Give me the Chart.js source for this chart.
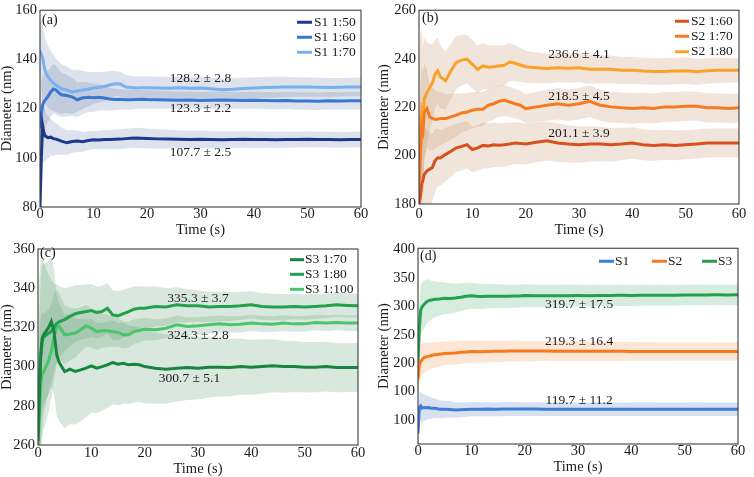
<!DOCTYPE html>
<html>
<head>
<meta charset="utf-8">
<script src="https://cdn.jsdelivr.net/npm/chart.js@4.4.1/dist/chart.umd.min.js"></script>
<style>
  html, body { margin: 0; padding: 0; background: #fff; }
  #wrap { position: relative; width: 754px; height: 477px; }
  canvas { position: absolute; }
</style>
</head>
<body>
<div id="wrap">
  <canvas id="chartA" width="377" height="238" style="left:0;top:0"></canvas>
  <canvas id="chartB" width="377" height="238" style="left:377px;top:0"></canvas>
  <canvas id="chartC" width="377" height="239" style="left:0;top:238px"></canvas>
  <canvas id="chartD" width="377" height="239" style="left:377px;top:238px"></canvas>
</div>
<script>
// time samples (s), shared by every series
const T = [0, 0.25, 0.5, 0.75, 1, 1.5, 2, 2.5, 3, 3.5, 4, 5, 6, 7, 8, 9, 10, 11, 12, 13, 14, 15, 16, 17, 18, 19, 20,
  22, 24, 26, 28, 30, 32, 34, 36, 38, 40, 42, 44, 46, 48, 50, 52, 54, 56, 58, 60];

// (a) S1 diameters (nm) and band half-widths
const s1_50 = [80, 100, 113, 110, 108.8, 108.2, 108.4, 107.8, 107.6, 107.2, 106.8, 106.1, 106.6, 106.8, 106.5, 107, 107.3, 107.2, 107.4, 107.4,
  107.5, 107.6, 107.8, 108, 108.1, 108, 107.9, 107.7, 107.6, 107.5, 107.4, 107.5, 107.4, 107.3, 107.4, 107.5, 107.4, 107.4, 107.3, 107.4,
  107.4, 107.5, 107.4, 107.4, 107.3, 107.4, 107.4];
const s1_60 = [112, 118, 121.5, 122.8, 123.6, 125, 126.8, 128, 127.6, 126.5, 125.6, 125.3, 124.8, 123.6, 124.4, 124.6, 124.4, 124.6, 124.3, 123.9,
  123.7, 123.8, 123.6, 123.6, 123.7, 123.8, 123.7, 123.6, 123.5, 123.4, 123.5, 123.3, 123.4, 123.5, 123.4, 123.3, 123.4, 123.3, 123.2, 123.3,
  123.1, 123.1, 123.0, 123.2, 123.1, 123.2, 123.2];
const s1_70 = [143.5, 142, 140.5, 137.5, 135, 133, 131.5, 130.5, 129.5, 128.8, 128, 127.6, 126.8, 127.2, 127.6, 127.9, 128.4, 128.7, 129, 129.6,
  130.1, 130, 128.8, 128.6, 128.4, 128.5, 128.5, 128.4, 128.3, 128.5, 128.3, 128.4, 128.1, 127.7, 127.9, 128.2, 128.4, 128.6, 128.7, 128.8,
  128.8, 128.8, 128.7, 128.6, 128.7, 128.8, 128.8];
const hw1_50 = [20, 18, 15, 12, 10, 8.5, 7.5, 7, 6.5, 6, 5.5, 5, 4.6, 4.3, 4, 3.8, 3.7, 3.7, 3.8, 3.9,
  4, 4, 4, 4, 4.1, 4.1, 4, 3.9, 3.8, 3.7, 3.6, 3.6, 3.5, 3.5, 3.4, 3.4, 3.4, 3.3, 3.3, 3.3,
  3.2, 3.2, 3.2, 3.2, 3.2, 3.2, 3.2];
const hw1_60 = [14, 13, 12, 11.5, 11, 10.5, 10, 10, 10, 9.5, 9, 8.5, 7.8, 7, 6.5, 6, 5.7, 5.4, 5, 4.7,
  4.4, 4.2, 4.1, 4, 3.9, 3.8, 3.8, 3.7, 3.6, 3.6, 3.5, 3.5, 3.5, 3.5, 3.5, 3.5, 3.5, 3.5, 3.5, 3.5,
  3.6, 3.6, 3.6, 3.6, 3.6, 3.6, 3.6];
const hw1_70 = [12, 14, 14, 13.5, 13, 12.5, 12, 11.5, 11, 10.5, 10, 9.5, 9, 8.5, 7.8, 7, 6.5, 6.2, 6, 5.6,
  5.2, 5, 4.9, 4.8, 4.7, 4.7, 4.7, 4.6, 4.6, 4.6, 4.6, 4.6, 4.5, 4.5, 4.5, 4.4, 4.4, 4.3, 4.2, 4.1,
  4, 4, 3.9, 3.9, 3.8, 3.8, 3.8];

// (b) S2
const s2_60 = [180, 183, 188, 190, 192.3, 193.7, 194.4, 195, 197.8, 199.1, 199, 200.5, 201.8, 203.2, 203.8, 204.5, 202.5, 203.2, 204.2, 204,
  204.5, 204.3, 204.5, 204.8, 205.2, 205, 204.8, 205.5, 206.1, 205.2, 204.8, 204.5, 204.8, 204.8, 204.5, 204.8, 205.2, 204.5, 204.2, 204.5,
  204.2, 204.5, 204.8, 205.2, 205.2, 205.2, 205.2];
const s2_70 = [185, 200, 212, 210, 218, 219.4, 216, 215.3, 215, 215, 215.3, 215.3, 216, 216.7, 217.6, 218, 218.7, 219.1, 219.1, 220.8,
  221.4, 222.4, 222.8, 222.1, 221.4, 220.8, 219.4, 220.1, 220.8, 221.4, 220.8, 221.4, 222.4, 220.8, 220.1, 219.7, 219.4, 219.7, 219.4, 220.1,
  220.1, 220.4, 220.4, 219.7, 219.7, 219.4, 219.7];
const s2_80 = [190, 210, 218, 215, 223.5, 226, 228, 230, 233.6, 235, 232.5, 230.9, 235, 238.5, 239.4, 239.8, 237.7, 235.6, 237, 236.5,
  236.7, 237, 237.3, 238.6, 238.1, 237.4, 236.7, 236.3, 235.9, 236.3, 236.1, 236.3, 235.6, 235.6, 235.6, 235.2, 235.2, 234.9, 234.7, 234.7,
  234.9, 235, 234.6, 235, 235.2, 235.2, 235.2];
const hw2_60 = [25, 24, 22, 21, 20, 17, 15, 14, 13, 12, 11.5, 11, 10.5, 10, 10, 9.8, 9.5, 9.5, 9.5, 9.3,
  9.2, 9, 9, 8.8, 8.7, 8.6, 8.5, 8.3, 8.1, 7.9, 7.7, 7.5, 7.3, 7.1, 6.9, 6.7, 6.5, 6.4, 6.3, 6.2,
  6.1, 6, 6, 6, 6, 6, 6];
const hw2_70 = [30, 28, 26, 24, 20, 16, 14, 13, 12, 11.5, 11, 10, 9.5, 9, 8, 7.8, 7.5, 7.2, 7, 6.8,
  6.6, 6.5, 6.4, 6.2, 6.1, 6, 6, 6.2, 6.4, 6.5, 6.5, 6.5, 6.5, 6.4, 6.4, 6.3, 6.3, 6.2, 6.2, 6.2,
  6.1, 6.1, 6, 6, 6, 6, 6];
const hw2_80 = [45, 40, 35, 30, 25, 21, 18, 16, 14, 13.5, 13, 12, 11.5, 11, 10.5, 10, 10, 9.8, 9.5, 9,
  8.8, 8.5, 8.2, 7.8, 7.4, 7, 6.6, 6.3, 6.1, 6, 6, 6, 5.9, 5.8, 5.7, 5.6, 5.5, 5.5, 5.5, 5.5,
  5.5, 5.5, 5.4, 5.3, 5.2, 5.1, 5];

// (c) S3
const s3_70 = [262, 285, 305, 314, 316, 318, 320, 323, 318, 306, 302, 297.5, 298.7, 297.5, 298.3, 299.2, 300.4, 299.2, 300, 300.9,
  302.1, 301.2, 301.7, 300.9, 301.2, 300.9, 300, 299.2, 298.7, 299.2, 299.5, 299.2, 299.7, 299.7, 299.5, 300, 299.7, 300, 300.4, 300,
  300, 299.7, 299.7, 300, 299.5, 299.5, 299.5];
const s3_80 = [265, 290, 305, 312, 315, 316, 317, 318, 320, 322, 323, 324, 325.6, 327, 327.6, 328.1, 328.6, 327.6, 328.1, 329.8,
  326.4, 325.9, 327, 328.1, 329.3, 329.8, 329.8, 330.7, 330.4, 331.5, 331, 331, 330.4, 330.7, 330.7, 331, 331.5, 330.7, 330.4, 330.4,
  330.7, 330.4, 330.7, 331, 331.5, 331.2, 331];
const s3_100 = [260, 275, 290, 296, 297, 300, 303, 308, 315, 320, 320.5, 316.2, 316.6, 317.1, 318.8, 320.8, 319.6, 317.9, 318.3, 318.3,
  317.9, 317.4, 316.2, 316.2, 317.9, 318.4, 319.1, 318.8, 319.6, 321.3, 320.5, 320.8, 321.3, 321.8, 321.3, 321.6, 322.2, 321.8, 321.6, 322.2,
  321.8, 321.8, 322.5, 322.2, 322.5, 322.2, 322.2];
const hw3_70 = [40, 40, 40, 38, 36, 35, 34, 33, 32, 31, 30, 29, 28, 27, 26, 25, 24, 23, 22.5, 22,
  21.5, 21, 20.5, 20, 19.5, 19, 18.8, 18.2, 17.6, 17, 16.5, 16, 15.5, 15, 14.6, 14.3, 14, 13.8, 13.5, 13.3,
  13.1, 12.9, 12.8, 12.7, 12.6, 12.5, 12.5];
const hw3_80 = [60, 55, 50, 45, 40, 34, 30, 26, 22, 20, 18, 16, 15, 14.5, 14, 13.8, 13.5, 13.3, 13, 12.8,
  12.6, 12.5, 12.2, 12, 11.6, 11.3, 11, 10.3, 9.6, 9, 8.5, 8, 7.8, 7.6, 7.4, 7.2, 7, 6.9, 6.8, 6.7,
  6.6, 6.5, 6.4, 6.3, 6.2, 6.1, 6];
const hw3_100 = [40, 38, 35, 32, 30, 28, 26, 24, 22, 19, 17, 15, 13.5, 12.5, 11.5, 10.8, 10, 9.4, 8.8, 8.3,
  7.8, 7.4, 7, 6.7, 6.4, 6.1, 5.8, 5.4, 5, 4.8, 4.6, 4.5, 4.4, 4.3, 4.2, 4.2, 4.1, 4.1, 4, 4,
  4, 4, 4, 4, 4, 4, 4];

// (d) S1 / S2 / S3 overall
const dS1 = [76, 122, 125, 121, 122, 121.5, 122, 121, 120.7, 120.3, 119.1, 119.1, 118.8, 117.6, 118, 118.6, 119.1, 119.2, 119.1, 119.3,
  119.2, 119.2, 119.3, 119.4, 119.4, 119.3, 119.3, 119.3, 119.2, 119.2, 119.2, 119.1, 119.1, 119.2, 119.1, 119.1, 119.1, 119.2, 119.1, 119.1,
  119.1, 119.1, 119.2, 119.1, 119.1, 119.1, 119.1];
const dS2 = [172, 197, 203, 206, 208.9, 211.5, 212, 213.5, 214.7, 215, 215.8, 217.2, 217.6, 218, 219.3, 219.8, 220.5, 220.3, 220.3, 220.6,
  220.8, 220.8, 221, 221.4, 221.4, 221.4, 221.4, 221.4, 221.4, 221.2, 221.2, 221.2, 221, 221, 220.9, 220.8, 220.6, 220.6, 220.5, 220.5,
  220.5, 220.5, 220.5, 220.5, 220.5, 220.5, 220.5];
const dS3 = [200, 261, 293, 298.6, 301.6, 307, 310, 311, 312, 312.5, 313, 314.3, 313.5, 314.5, 316, 317.8, 318.5, 317.5, 317.2, 317.5,
  317.6, 317.8, 317.7, 317.8, 318, 318.2, 318.9, 318.6, 318.5, 318.6, 318.7, 318.8, 318.6, 319, 318.9, 319.2, 319.1, 319.4, 319.3, 319.6,
  319.5, 319.8, 320, 319.9, 320.1, 320, 320.1];
const hwD1 = [26, 26, 26, 25, 24, 22, 20, 18.5, 17.5, 16.5, 16, 15, 14.2, 13.6, 13.2, 12.8, 12.5, 12.5, 12.4, 12.4,
  12.3, 12.3, 12.3, 12.2, 12.2, 12.2, 12.2, 12.1, 12.1, 12.1, 12.1, 12, 12, 12, 12, 12, 12, 12, 12, 12,
  12, 12, 12, 12, 12, 12, 12];
const hwD2 = [30, 30, 30, 28, 27, 25.5, 24, 23, 22.5, 22, 21.5, 21, 20.8, 20.5, 20.3, 20.1, 20, 19.8, 19.6, 19.4,
  19.2, 19, 18.8, 18.6, 18.4, 18.2, 18, 17.8, 17.6, 17.5, 17.4, 17.3, 17.2, 17.1, 17, 16.9, 16.8, 16.7, 16.6, 16.5,
  16.4, 16.3, 16.2, 16.1, 16, 16, 16];
const hwD3 = [45, 45, 44, 43, 43, 40, 37, 34, 32, 30.5, 29.5, 28, 27, 25.5, 24.5, 23.5, 23, 22.5, 22, 21.5,
  21.2, 21, 20.8, 20.6, 20.4, 20.2, 20, 19.8, 19.6, 19.4, 19.2, 19, 18.9, 18.8, 18.7, 18.6, 18.5, 18.4, 18.3, 18.2,
  18.1, 18, 18, 18, 18, 18, 18];

// y tick labels of (d), as printed in the figure
const yTicksD = ['100', '100', '200', '250', '300', '350', '400'];

// mean ± sd labels: [text, time, diameter]
const notesA = [['128.2 ± 2.8', 30, 132.4], ['123.3 ± 2.2', 30, 120], ['107.7 ± 2.5', 30, 102]];
const notesB = [['236.6 ± 4.1', 30, 241.7], ['218.5 ± 4.5', 30, 224.5], ['201.1 ± 3.9', 30, 209.3]];
const notesC = [['335.3 ± 3.7', 30, 334.6], ['324.3 ± 2.8', 30, 315.7], ['300.7 ± 5.1', 28.4, 294.1]];
const notesD = [['319.7 ± 17.5', 30.2, 303.3], ['219.3 ± 16.4', 30.2, 237.8], ['119.7 ± 11.2', 30.2, 134.8]];

const TXT = '#1a1a1a';
const FONT = '"Liberation Serif", "Times New Roman", serif';

// box around the plot area
const framePlugin = {
  id: 'frame',
  afterDatasetsDraw(chart) {
    const { ctx, chartArea: a } = chart;
    ctx.save();
    ctx.strokeStyle = '#3c3c3c';
    ctx.lineWidth = 1.1;
    ctx.strokeRect(a.left, a.top, a.right - a.left, a.bottom - a.top);
    ctx.restore();
  }
};

// panel tag, value labels and the inset legend
const extrasPlugin = {
  id: 'extras',
  afterDraw(chart, args, opts) {
    const { ctx, chartArea: a, scales: { x, y } } = chart;
    ctx.save();
    ctx.fillStyle = TXT;
    ctx.textBaseline = 'middle';
    ctx.font = '14px ' + FONT;
    ctx.textAlign = 'left';
    ctx.fillText(opts.tag, a.left + opts.tagDx, a.top + opts.tagDy);

    ctx.font = '13.5px ' + FONT;
    ctx.textAlign = 'center';
    opts.notes.forEach(n => ctx.fillText(n[0], x.getPixelForValue(n[1]), y.getPixelForValue(n[2])));

    const lines = chart.data.datasets.filter(d => !d.isBand);
    const lg = opts.legend;
    ctx.textAlign = 'left';
    ctx.lineWidth = 3;
    lines.forEach((d, i) => {
      const lx = a.right + (lg.lineX[i] !== undefined ? lg.lineX[i] : lg.lineX[0]);
      const ly = a.top + (lg.rowY[i] !== undefined ? lg.rowY[i] : lg.rowY[0]);
      ctx.strokeStyle = d.borderColor;
      ctx.beginPath();
      ctx.moveTo(lx, ly);
      ctx.lineTo(lx + lg.len, ly);
      ctx.stroke();
      ctx.fillText(d.label, lx + lg.len + lg.gap, ly);
    });
    ctx.restore();
  }
};

function pts(vals, hw, sign) {
  return T.map((t, i) => ({ x: t, y: vals[i] + sign * (hw ? hw[i] : 0) }));
}

function makePanel(id, p) {
  const datasets = [];
  p.series.forEach(s => {
    datasets.push({ data: pts(s.y, s.hw, -1), isBand: true, order: 2, borderColor: 'rgba(0,0,0,0)', borderWidth: 0, pointRadius: 0, fill: false });
    datasets.push({ data: pts(s.y, s.hw, 1), isBand: true, order: 2, borderColor: 'rgba(0,0,0,0)', borderWidth: 0, pointRadius: 0, fill: '-1', backgroundColor: s.band });
  });
  p.series.forEach(s => {
    datasets.push({ label: s.label, data: pts(s.y, null, 0), order: 1, borderColor: s.color, borderWidth: 3, pointRadius: 0, fill: false, tension: 0 });
  });

  new Chart(document.getElementById(id), {
    type: 'line',
    data: { datasets },
    options: {
      responsive: false,
      animation: false,
      devicePixelRatio: 1,
      layout: { padding: { top: p.top, right: p.right, left: 0, bottom: 0 } },
      plugins: {
        legend: { display: false },
        tooltip: { enabled: false },
        extras: { tag: p.tag, tagDx: p.tagDx, tagDy: p.tagDy, notes: p.notes, legend: p.legend }
      },
      scales: {
        x: {
          type: 'linear', min: 0, max: 60,
          grid: { display: false, drawTicks: false },
          border: { display: false },
          ticks: { stepSize: 10, padding: p.xPad, maxRotation: 0, color: TXT, font: { family: FONT, size: 14.5, lineHeight: 1 } },
          title: { display: true, text: 'Time (s)', color: TXT, font: { family: FONT, size: 14.5, lineHeight: 1 }, padding: { top: 0, bottom: p.xTitlePad } },
          afterFit: s => { s.height = p.xH; }
        },
        y: {
          type: 'linear', min: p.yMin, max: p.yMax,
          grid: { display: false, drawTicks: false },
          border: { display: false },
          ticks: {
            stepSize: p.yStep, includeBounds: false, padding: 3, color: TXT,
            font: { family: FONT, size: 14.5, lineHeight: 1 },
            callback: p.yLabels ? (v, i) => p.yLabels[i] : v => v
          },
          title: { display: true, text: 'Diameter (nm)', color: TXT, font: { family: FONT, size: 14.5, lineHeight: 1 }, padding: 0 },
          afterFit: s => { s.width = p.yW; }
        }
      }
    },
    plugins: [framePlugin, extrasPlugin]
  });
}

makePanel('chartA', {
  yMin: 80, yMax: 160, yStep: 20, yW: 40, top: 7, right: 16, xH: 31, xPad: 0, xTitlePad: 1,
  tag: '(a)', tagDx: 2, tagDy: 10, notes: notesA,
  legend: { lineX: [-64], len: 15, gap: 2, rowY: [12, 27, 42] },
  series: [
    { label: 'S1 1:50', y: s1_50, hw: hw1_50, color: '#1b3a8c', band: 'rgba(100,125,170,0.22)' },
    { label: 'S1 1:60', y: s1_60, hw: hw1_60, color: '#3877d2', band: 'rgba(100,125,170,0.22)' },
    { label: 'S1 1:70', y: s1_70, hw: hw1_70, color: '#79b0ef', band: 'rgba(100,125,170,0.22)' }
  ]
});

makePanel('chartB', {
  yMin: 180, yMax: 260, yStep: 20, yW: 42, top: 7, right: 15, xH: 34, xPad: 3, xTitlePad: 1,
  tag: '(b)', tagDx: 3, tagDy: 8, notes: notesB,
  legend: { lineX: [-64], len: 14, gap: 2, rowY: [11, 26, 41.5] },
  series: [
    { label: 'S2 1:60', y: s2_60, hw: hw2_60, color: '#d8501c', band: 'rgba(190,135,90,0.22)' },
    { label: 'S2 1:70', y: s2_70, hw: hw2_70, color: '#f57a20', band: 'rgba(190,135,90,0.22)' },
    { label: 'S2 1:80', y: s2_80, hw: hw2_80, color: '#f8a327', band: 'rgba(190,135,90,0.22)' }
  ]
});

makePanel('chartC', {
  yMin: 260, yMax: 360, yStep: 20, yW: 38, top: 11, right: 19, xH: 32, xPad: 1, xTitlePad: 1,
  tag: '(c)', tagDx: 2, tagDy: 4, notes: notesC,
  legend: { lineX: [-68], len: 14, gap: 1, rowY: [10.7, 25.3, 40.3] },
  series: [
    { label: 'S3 1:70', y: s3_70, hw: hw3_70, color: '#17853f', band: 'rgba(80,150,105,0.22)' },
    { label: 'S3 1:80', y: s3_80, hw: hw3_80, color: '#22a04c', band: 'rgba(80,150,105,0.22)' },
    { label: 'S3 1:100', y: s3_100, hw: hw3_100, color: '#4cc46b', band: 'rgba(80,150,105,0.22)' }
  ]
});

makePanel('chartD', {
  yMin: 58, yMax: 402, yStep: 50, yLabels: yTicksD, yW: 41, top: 8, right: 16, xH: 33, xPad: 0, xTitlePad: 3,
  tag: '(d)', tagDx: 2, tagDy: 8, notes: notesD,
  legend: { lineX: [-139, -86, -36], len: 15, gap: 1, rowY: [13] },
  series: [
    { label: 'S1', y: dS1, hw: hwD1, color: '#3b7dd8', band: 'rgba(80,120,190,0.22)' },
    { label: 'S2', y: dS2, hw: hwD2, color: '#f7791c', band: 'rgba(240,140,70,0.22)' },
    { label: 'S3', y: dS3, hw: hwD3, color: '#22a04c', band: 'rgba(50,160,90,0.2)' }
  ]
});
</script>
</body>
</html>
